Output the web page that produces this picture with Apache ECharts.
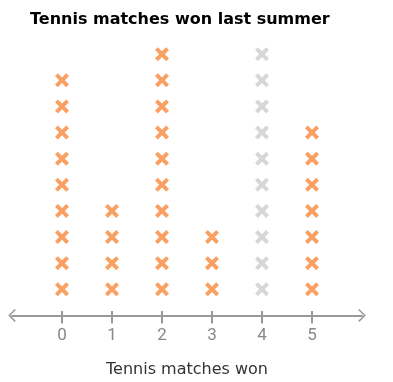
<!DOCTYPE html>
<html><head><meta charset="utf-8">
<script src="https://cdn.jsdelivr.net/npm/echarts@6/dist/echarts.min.js"></script>
<style>html,body{margin:0;padding:0;background:#fff}#c{width:393px;height:382px}</style>
</head><body><div id="c"></div>
<script>
const title = 'Tennis matches won last summer';
const axisName = 'Tennis matches won';
const categories = [0, 1, 2, 3, 4, 5];
const counts = [9, 4, 10, 3, 10, 7];
const highlighted = [true, true, true, true, false, true];

const orangePts = [], grayPts = [];
categories.forEach((c, i) => {
  for (let k = 1; k <= counts[i]; k++) {
    (highlighted[i] ? orangePts : grayPts).push([c, k]);
  }
});

const cross = 'path://M4,0 L10,6 L16,0 L20,4 L14,10 L20,16 L16,20 L10,14 L4,20 L0,16 L6,10 L0,4 Z';
const chevron = 'path://M50,0 L100,50 L92,58 L50,16 L8,58 L0,50 Z';

const chart = echarts.init(document.getElementById('c'), null, {renderer: 'canvas'});
chart.setOption({
  animation: false,
  title: {
    text: title, left: 25, top: 7,
    textStyle: {fontFamily: 'DejaVu Sans', fontWeight: 'bold', fontSize: 16, color: '#000'}
  },
  grid: {left: 12, right: 31, top: 28, bottom: 64, outerBoundsMode: 'none', containLabel: false},
  xAxis: [{
    type: 'value', min: -1, max: 6, interval: 1,
    name: axisName, nameLocation: 'middle', nameGap: 44,
    nameTextStyle: {fontFamily: 'DejaVu Sans', fontSize: 16, color: '#333'},
    axisLine: {show: true, lineStyle: {color: '#999', width: 2},
      symbol: [chevron, chevron], symbolSize: [13, 8]},
    axisTick: {show: true, inside: false, length: 8, customValues: categories,
      lineStyle: {color: '#999', width: 2}},
    axisLabel: {customValues: categories, margin: 9, fontFamily: 'Roboto', fontSize: 17, color: '#888'},
    splitLine: {show: false}
  }, {
    type: 'value', min: -1, max: 6, interval: 1, position: 'bottom', offset: 0,
    axisLine: {show: false},
    axisTick: {show: true, inside: true, length: 7, customValues: categories,
      lineStyle: {color: '#999', width: 2}},
    axisLabel: {show: false},
    splitLine: {show: false}
  }],
  yAxis: {type: 'value', min: -0.1, max: 11, show: false, splitLine: {show: false}},
  series: [
    {type: 'scatter', data: orangePts, symbol: cross, symbolSize: 14,
      itemStyle: {color: '#F9A062', opacity: 1}},
    {type: 'scatter', data: grayPts, symbol: cross, symbolSize: 14,
      itemStyle: {color: '#D7D7D7', opacity: 1}}
  ]
});
</script></body></html>
